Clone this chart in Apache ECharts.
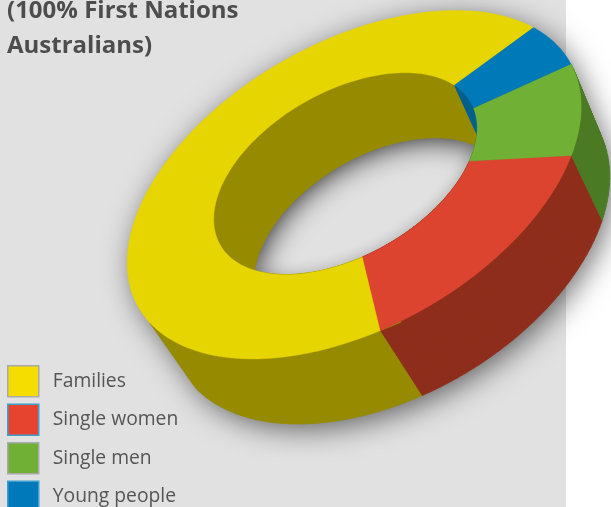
<!DOCTYPE html>
<html>
<head>
<meta charset="utf-8">
<style>html,body{margin:0;padding:0;background:#fff}#chart{width:611px;height:507px}</style>
<script src="https://cdn.jsdelivr.net/npm/echarts@6/dist/echarts.min.js"></script>
</head>
<body>
<div id="chart"></div>
<script>
// Household shares, in percent
const categories = ['Families', 'Single women', 'Single men', 'Young people'];
const shares = [69.3, 16.1, 8.9, 5.7];

const titleLines = ['(100% First Nations', 'Australians)'];

const topColours = ['#e6d500', '#dc4430', '#6fb035', '#0079b8'];
const wallColours = ['#968a00', '#8f2d1c', '#4b7a25', '#005f8f'];
const keyColours = ['#f5dd00', '#e6442e', '#6fb035', '#0079bb'];
const keyBorders = ['#aaaaaa', '#3d9fd0', '#aaaaaa', '#3d9fd0'];
const panelColour = '#e1e1e1';

// Perspective view of the ring's upper face: disc coordinates to pixels
const centre = [341, 168];
const basis = [[224.2, 0], [-78.2, 152.7]];
const tilt = [-0.0574, -0.1363];
const innerRadius = 0.585;
const startAngle = -29.2;
const STEP = 2;

function faceCoord(deg, r) {
  const t = deg * Math.PI / 180;
  const vx = r * Math.cos(t);
  const vy = r * Math.sin(t);
  const w = 1 + tilt[0] * vx + tilt[1] * vy;
  return [
    centre[0] + (basis[0][0] * vx + basis[0][1] * vy) / w,
    centre[1] + (basis[1][0] * vx + basis[1][1] * vy) / w
  ];
}

// The ring's lower face sits below and to the right of the upper one
function lowerCoord(p) {
  return [p[0] + 34 - 0.0178 * p[0] + 0.0443 * p[1], p[1] + 65];
}

function arc(from, to, r, lower) {
  const n = Math.max(1, Math.ceil(Math.abs(to - from) / STEP));
  const pts = [];
  for (let i = 0; i <= n; i++) {
    const p = faceCoord(from + (to - from) * i / n, r);
    pts.push(lower ? lowerCoord(p) : p);
  }
  return pts;
}

// Angular span of each category, running anticlockwise on screen
const spans = [];
shares.reduce((angle, share) => {
  const end = angle - share * 3.6;
  spans.push([angle, end]);
  return end;
}, startAngle);

function polygon(points, style) {
  return { type: 'polygon', shape: { points }, style };
}

// A band of small quads between the upper and lower rim
function wall(from, to, r, colour) {
  const up = arc(from, to, r, false);
  const low = arc(from, to, r, true);
  const children = [];
  for (let i = 0; i < up.length - 1; i++) {
    children.push(polygon([up[i], up[i + 1], low[i + 1], low[i]], {
      fill: colour, stroke: colour, lineWidth: 0.8
    }));
  }
  return { type: 'group', children };
}

// The part of the outside wall that faces the viewer
const frontFrom = -214, frontTo = -368.7;
function outerWall(span, colour) {
  const from = Math.min(span[0], frontFrom);
  const to = Math.max(span[1], frontTo);
  return from > to + 0.1 ? wall(from, to, 1, colour) : { type: 'group', children: [] };
}

function topFace(span, colour) {
  const pts = arc(span[0], span[1], 1, false)
    .concat(arc(span[1], span[0], innerRadius, false));
  return polygon(pts, { fill: colour, stroke: colour, lineWidth: 0.4 });
}

function layer(name, render, z) {
  return {
    type: 'custom', name, coordinateSystem: 'none', silent: true, animation: false,
    clip: false, z, data: [[0]], renderItem: render
  };
}

const series = [];

// Soft drop shadow under the whole body
series.push(layer('', () => polygon(
  arc(frontTo, frontFrom - 360, 0.992, false).concat(arc(frontFrom, frontTo, 0.992, true)),
  { fill: wallColours[0], shadowBlur: 30, shadowColor: 'rgba(0,0,0,0.6)', shadowOffsetX: 5, shadowOffsetY: 6 }
), 2));

categories.forEach((name, i) => {
  series.push(layer(name, () => outerWall(spans[i], wallColours[i]), 3));
});

// Opening through the ring and the shade cast into it
series.push(layer('', () => polygon(arc(0, 360, innerRadius, false), { fill: panelColour }), 4));
series.push(layer('', () => polygon(
  arc(frontFrom, frontTo, innerRadius, false).concat(arc(frontTo, frontFrom, innerRadius + 0.05, false)),
  { fill: wallColours[0], shadowBlur: 14, shadowColor: 'rgba(0,0,0,0.3)' }
), 5));
series.push(layer('', () => polygon(
  arc(frontTo, frontFrom - 360, innerRadius, false).concat(arc(frontFrom - 360, frontTo, innerRadius, true)),
  { fill: wallColours[0], shadowBlur: 30, shadowColor: 'rgba(0,0,0,0.95)' }
), 5));

categories.forEach((name, i) => {
  series.push(layer(name, () => wall(spans[i][0], spans[i][1], innerRadius, wallColours[i]), 6));
});

categories.forEach((name, i) => {
  series.push(layer(name, () => topFace(spans[i], topColours[i]), 7));
});

const chart = echarts.init(document.getElementById('chart'), null, { renderer: 'canvas' });
chart.setOption({
  animation: false,
  backgroundColor: '#ffffff',
  graphic: [{
    type: 'rect', z: -10, silent: true,
    shape: { x: 0, y: 0, width: 566, height: 507 },
    style: { fill: panelColour }
  }],
  title: {
    text: titleLines.join('\n'),
    left: 7, top: -6, padding: 0,
    textStyle: { fontFamily: 'Open Sans', fontWeight: 'bold', fontSize: 24, lineHeight: 35, color: '#4d4d4d' }
  },
  legend: {
    orient: 'vertical', left: 7, top: 365, height: 300, padding: 0,
    itemWidth: 31, itemHeight: 31, itemGap: 6, icon: 'rect',
    selectedMode: false,
    textStyle: { fontFamily: 'Open Sans', fontSize: 19.3, color: '#555555', padding: [0, 0, 0, 9] },
    data: categories.map((name, i) => ({
      name,
      itemStyle: { color: keyColours[i], borderColor: keyBorders[i], borderWidth: 1.5 }
    }))
  },
  series
});
</script>
</body>
</html>
